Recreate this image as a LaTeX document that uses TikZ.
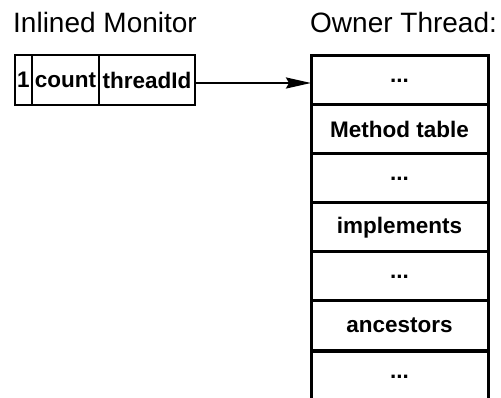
\documentclass[tikz,border=0pt]{standalone}
\usepackage{fontspec}
\setmainfont{Liberation Sans}
\usetikzlibrary{arrows.meta}
\begin{document}
\begin{tikzpicture}[x=1pt,y=-1pt,
  title/.style={anchor=base west,inner sep=0pt,font=\fontsize{28}{30}\selectfont},
  mcell/.style={draw,line width=2.5pt,inner sep=0pt,outer sep=0pt,minimum height=50pt,font=\fontsize{22.5}{24}\selectfont\bfseries},
  rcell/.style={draw,line width=3pt,inner sep=0pt,outer sep=0pt,minimum width=177pt,minimum height=49pt,font=\fontsize{22.5}{24}\selectfont\bfseries},
  link/.style={line width=2.2pt,-{Stealth[length=25pt,width=11pt,inset=3pt]}}]
\useasboundingbox (0,0) rectangle (501,398);
\clip (0,0) rectangle (501,398);
\fill[white] (0,0) rectangle (501,398);
\node[title] (t1) at (13,32.5) {Inlined Monitor};
\node[title] (t2) at (310,32.5) {Owner Thread:};
\node[mcell,minimum width=17pt] (c1) at (23.5,80) {1};
\node[mcell,minimum width=67pt] (c2) at (65.5,80) {count};
\node[mcell,minimum width=96pt] (c3) at (147,80) {threadId};
\node[rcell] (r1) at (399.5,80.5) {...};
\node[rcell] (r2) at (399.5,129.5) {Method table};
\node[rcell] (r3) at (399.5,178.5) {...};
\node[rcell] (r4) at (399.5,227.5) {implements};
\node[rcell] (r5) at (399.5,276.5) {...};
\node[rcell] (r6) at (399.5,325.5) {ancestors};
\node[rcell,minimum height=52pt] (r7) at (399.5,377) {...};
\draw[link] ([yshift=-3pt]c3.east) -- ([yshift=-2.5pt]r1.west);
\end{tikzpicture}
\end{document}
